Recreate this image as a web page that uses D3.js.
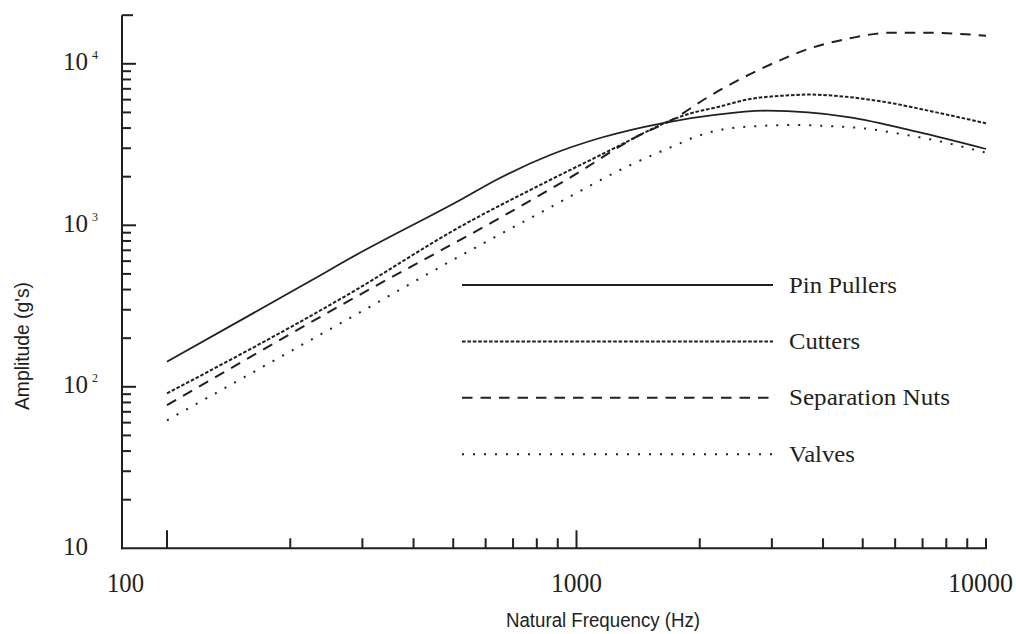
<!DOCTYPE html>
<html>
<head>
<meta charset="utf-8">
<script src="https://cdn.jsdelivr.net/npm/d3@7"></script>
<style>
  html, body { margin: 0; padding: 0; background: #ffffff; }
  svg { display: block; }
</style>
</head>
<body>
<div id="chart"></div>
<script>
// ---------------- data ----------------
const seriesNames = ["Pin Pullers", "Cutters", "Separation Nuts", "Valves"];

const pinFreq = [100, 226, 280, 520, 650, 862, 1141, 1627, 2200, 2914, 4656, 6772, 10000];
const pinAmp  = [143, 458, 625, 1434, 1963, 2725, 3472, 4299, 4842, 5124, 4664, 3798, 2968];

const cutFreq = [100, 280, 520, 862, 1254, 1540, 1692, 1893, 2200, 2653, 3199, 3717, 4238, 5613, 7433, 10000];
const cutAmp  = [91, 379, 980, 1908, 3058, 3987, 4450, 4923, 5379, 6053, 6350, 6450, 6350, 5826, 5051, 4281];

const sepFreq = [100, 285, 669, 973, 1403, 1740, 2039, 2507, 3082, 3717, 4656, 5830, 7030, 10000];
const sepAmp  = [77, 353, 1158, 2000, 3538, 4597, 5968, 8017, 10300, 12470, 14390, 15580, 15580, 14930];

const valFreq = [100, 288, 534, 846, 1327, 1789, 1911, 2283, 2806, 3383, 4083, 5016, 6053, 7300, 10000];
const valAmp  = [62, 278, 671, 1256, 2306, 3219, 3457, 3930, 4120, 4179, 4120, 3987, 3713, 3408, 2815];

const xMajorTicks = [100, 1000];
const xMinorTicks = [200, 300, 400, 500, 600, 700, 800, 900, 2000, 3000, 4000, 5000, 6000, 7000, 8000, 9000, 10000];
const xTickLabels = ["100", "1000", "10000"];
const xLabelValues = [100, 1000, 10000];

const yMajorTicks = [100, 1000, 10000];
const yMinorTicks = [20, 30, 40, 50, 60, 70, 80, 90, 200, 300, 400, 500, 600, 700, 800, 900,
                     2000, 3000, 4000, 5000, 6000, 7000, 8000, 9000];
const yTopTick = 20000;
const yLabelValues = [10, 100, 1000, 10000];
const yLabelExponents = ["", "2", "3", "4"];

const xTitle = "Natural Frequency (Hz)";
const yTitle = "Amplitude  (g's)";

// ---------------- drawing ----------------
const W = 1016, H = 634;
const ink = "#231f20";
const serif = "'Liberation Serif', 'Times New Roman', Times, serif";
const sans = "'Liberation Sans Narrow', 'Arial Narrow', 'Liberation Sans', Arial, sans-serif";

const svg = d3.select("#chart").append("svg")
  .attr("width", W).attr("height", H)
  .attr("viewBox", `0 0 ${W} ${H}`);

const x = d3.scaleLog().domain([100, 10000]).range([167, 986]);
const y = d3.scaleLog().domain([10, 10000]).range([548.3, 63.8]);
const axisX0 = 122;           // y axis position
const axisY0 = y(10);         // x axis position

const axes = svg.append("g").attr("stroke", ink).attr("stroke-width", 2).attr("fill", "none");

// y axis line
axes.append("line").attr("x1", axisX0).attr("x2", axisX0)
  .attr("y1", y(yTopTick)).attr("y2", axisY0 + 1);
// x axis line
axes.append("line").attr("x1", axisX0 - 1).attr("x2", x(10000) + 1)
  .attr("y1", axisY0).attr("y2", axisY0);

// y ticks (inward, to the right)
axes.selectAll(".ymaj").data(yMajorTicks).join("line")
  .attr("x1", axisX0).attr("x2", axisX0 + 14)
  .attr("y1", d => y(d)).attr("y2", d => y(d));
axes.selectAll(".ymin").data(yMinorTicks).join("line")
  .attr("x1", axisX0).attr("x2", axisX0 + 9)
  .attr("y1", d => y(d)).attr("y2", d => y(d));
axes.append("line")
  .attr("x1", axisX0).attr("x2", axisX0 + 11)
  .attr("y1", y(yTopTick)).attr("y2", y(yTopTick));

// x ticks (upward)
axes.selectAll(".xmaj").data(xMajorTicks).join("line")
  .attr("x1", d => x(d)).attr("x2", d => x(d))
  .attr("y1", axisY0).attr("y2", axisY0 - 18);
axes.selectAll(".xmin").data(xMinorTicks).join("line")
  .attr("x1", d => x(d)).attr("x2", d => x(d))
  .attr("y1", axisY0).attr("y2", axisY0 - 10);

// x tick labels
const xLab = svg.append("g").attr("fill", ink).style("font-family", serif).style("font-size", "27px");
const xLabelAnchor = ["start", "middle", "end"];
const xLabelShift = [d => axisX0 - 15, d => x(d), d => x(d) + 27];
const xLabelWidth = [37, 51, 65];
xLabelValues.forEach((v, i) => {
  xLab.append("text")
    .attr("x", xLabelShift[i](v)).attr("y", 592)
    .attr("text-anchor", xLabelAnchor[i])
    .attr("textLength", xLabelWidth[i]).attr("lengthAdjust", "spacingAndGlyphs")
    .text(xTickLabels[i]);
});

// y tick labels  10, 10^2, 10^3, 10^4
const yLab = svg.append("g").attr("fill", ink).style("font-family", serif);
yLabelValues.forEach((v, i) => {
  const t = yLab.append("text")
    .attr("x", 63).attr("y", y(v) + 6.5);
  t.append("tspan").style("font-size", "26px").attr("textLength", 25)
    .attr("lengthAdjust", "spacingAndGlyphs").text("10");
  if (yLabelExponents[i]) {
    t.append("tspan").style("font-size", "12px").attr("dx", 4).attr("dy", -11)
      .text(yLabelExponents[i]);
  }
});

// axis titles
svg.append("text")
  .attr("x", 603).attr("y", 627).attr("text-anchor", "middle")
  .attr("fill", ink).style("font-family", sans).style("font-size", "20px")
  .attr("textLength", 194).attr("lengthAdjust", "spacingAndGlyphs")
  .text(xTitle);
svg.append("text")
  .attr("transform", "translate(29,346) rotate(-90)")
  .attr("text-anchor", "middle")
  .attr("fill", ink).style("font-family", sans).style("font-size", "20px")
  .attr("textLength", 128).attr("lengthAdjust", "spacingAndGlyphs")
  .text(yTitle);

// series
const styles = [
  { dash: null,      width: 1.8 },
  { dash: "3.6,1.8", width: 2.0 },
  { dash: "10.5,8",  width: 2.0 },
  { dash: "2,9",     width: 2.0 }
];
const seriesData = [
  pinFreq.map((f, i) => ({ f, a: pinAmp[i] })),
  cutFreq.map((f, i) => ({ f, a: cutAmp[i] })),
  sepFreq.map((f, i) => ({ f, a: sepAmp[i] })),
  valFreq.map((f, i) => ({ f, a: valAmp[i] }))
];
const line = d3.line().x(d => x(d.f)).y(d => y(d.a)).curve(d3.curveMonotoneX);

const plot = svg.append("g").attr("fill", "none").attr("stroke", ink);
seriesData.forEach((d, i) => {
  plot.append("path").datum(d)
    .attr("d", line)
    .attr("stroke-width", styles[i].width)
    .attr("stroke-dasharray", styles[i].dash);
});

// legend
const legX0 = 462, legX1 = 773, legY0 = 285, legDy = 56.4, legTextX = 789;
const legWidths = [108, 71, 161, 66];
const leg = svg.append("g");
seriesNames.forEach((name, i) => {
  const ly = legY0 + i * legDy;
  leg.append("line")
    .attr("x1", legX0).attr("x2", legX1).attr("y1", ly).attr("y2", ly)
    .attr("stroke", ink).attr("stroke-width", styles[i].width)
    .attr("stroke-dasharray", styles[i].dash);
  leg.append("text")
    .attr("x", legTextX).attr("y", ly + 7.5)
    .attr("fill", ink).style("font-family", serif).style("font-size", "23px")
    .attr("textLength", legWidths[i]).attr("lengthAdjust", "spacingAndGlyphs")
    .text(name);
});
</script>
</body>
</html>
